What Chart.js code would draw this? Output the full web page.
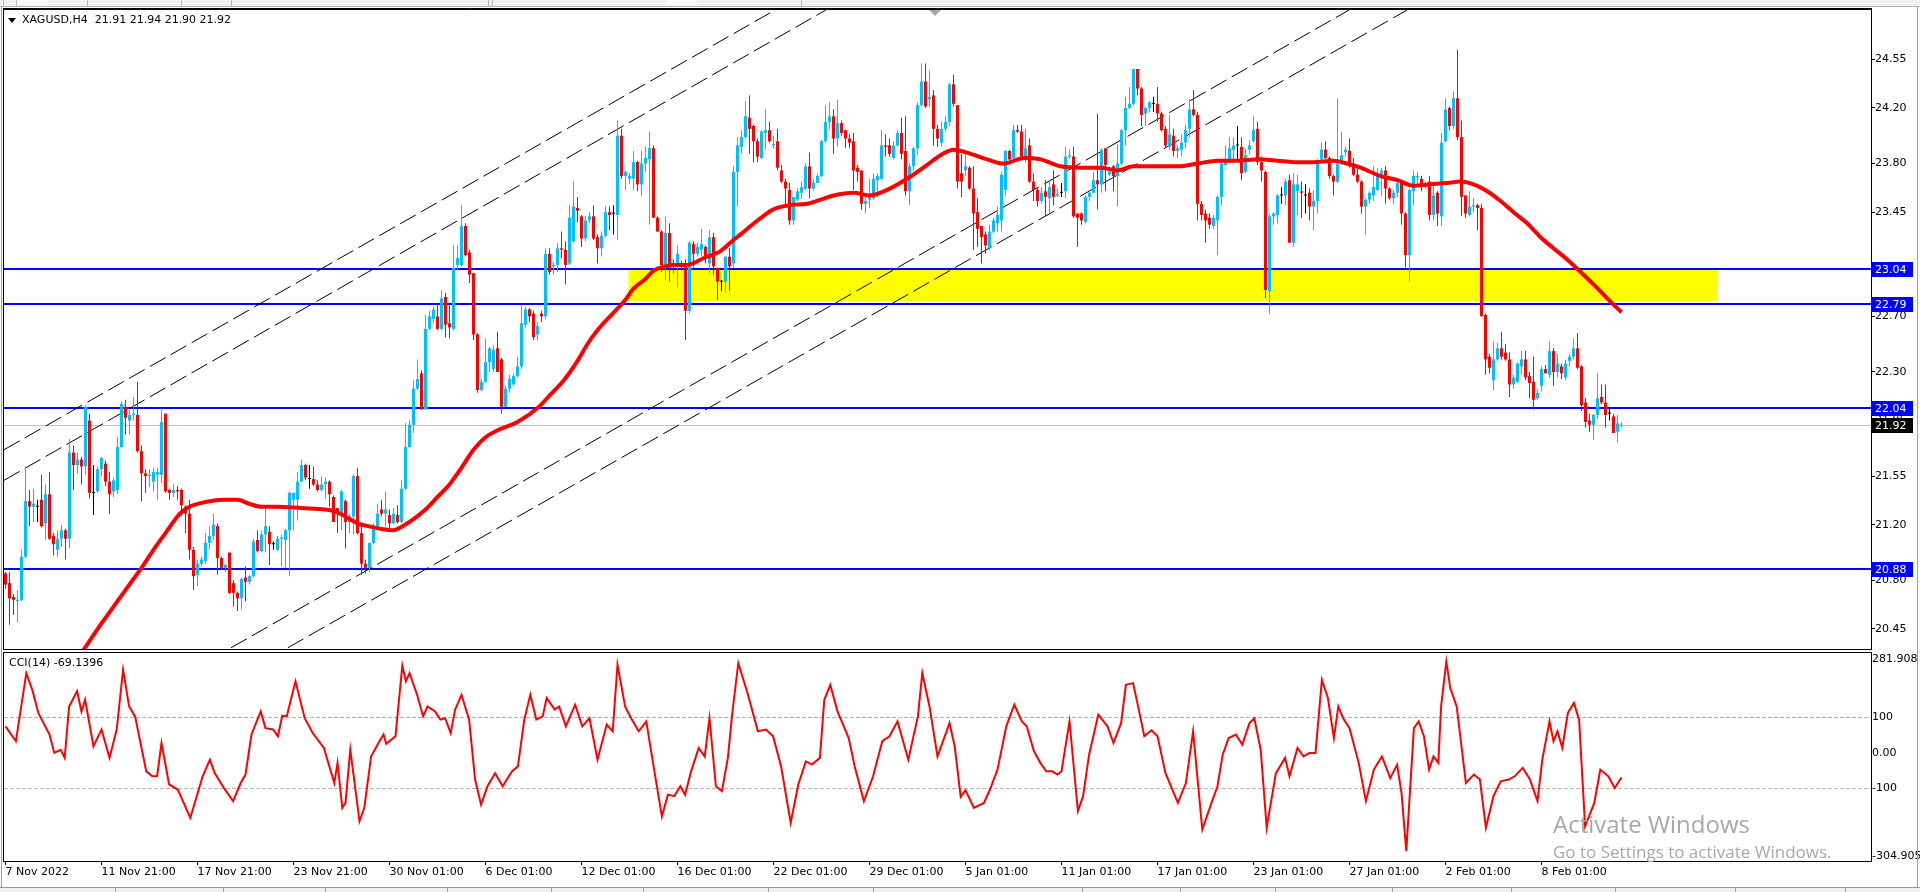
<!DOCTYPE html>
<html>
<head>
<meta charset="utf-8">
<title>XAGUSD,H4</title>
<script src="https://cdn.jsdelivr.net/npm/chart.js@4.4.1/dist/chart.umd.min.js"></script>
<style>
  html, body { margin:0; padding:0; background:#ffffff; }
  body { width:1920px; height:892px; position:relative; overflow:hidden; font-family:"DejaVu Sans", sans-serif; }
  canvas { position:absolute; left:0; display:block; }
  #mainCanvas { top:0; }
  #cciCanvas { top:650px; }
  .strip-top { position:absolute; left:0; top:0; width:1920px; height:6px; background:#f0f0f0; border-bottom:1px solid #b4b4b4; z-index:2; }
  .vsep { position:absolute; top:0; width:1px; height:6px; background:#b8b8b8; z-index:3; }
  .wbox { position:absolute; top:0; height:5px; background:#fbfbfb; z-index:3; }
  .edge { position:absolute; top:7px; width:1px; height:880px; background:#a0a0a0; z-index:2; }
  .strip-bottom { position:absolute; left:0; top:887px; width:1920px; height:5px; background:#f0f0f0; border-top:1px solid #9a9a9a; z-index:2; }
  .tab { position:absolute; top:888px; width:1px; height:4px; background:#a0a0a0; z-index:3; }
  .title { position:absolute; left:22px; top:13px; font-size:11px; line-height:13px; color:#000; white-space:pre; z-index:4; }
  .tri { position:absolute; left:8px; top:18px; width:0; height:0; border-left:4px solid transparent; border-right:4px solid transparent; border-top:5px solid #000; z-index:4; }
  .cci-title { position:absolute; left:9px; top:656px; font-size:11px; line-height:13px; color:#000; white-space:pre; z-index:4; }
  .wm1 { position:absolute; left:1553px; top:812px; font-family:"Open Sans", sans-serif; font-size:24px; line-height:1; color:#a8a8a8; white-space:pre; z-index:4; }
  .wm2 { position:absolute; left:1553px; top:843px; font-family:"Open Sans", sans-serif; font-size:17px; line-height:1; color:#a8a8a8; white-space:pre; z-index:4; }
</style>
</head>
<body>
<div class="strip-top"></div>
<div class="wbox" style="left:16px;width:32px"></div>
<div class="wbox" style="left:666px;width:31px"></div>
<div class="vsep" style="left:3px"></div>
<div class="vsep" style="left:16px"></div>
<div class="vsep" style="left:87px"></div>
<div class="vsep" style="left:181px"></div>
<div class="vsep" style="left:231px"></div>
<div class="vsep" style="left:488px"></div>
<div class="vsep" style="left:492px"></div>
<div class="vsep" style="left:801px"></div>
<div class="edge" style="left:1px"></div>
<div class="edge" style="left:1917px"></div>
<canvas id="mainCanvas" width="1920" height="650"></canvas>
<canvas id="cciCanvas" width="1920" height="237"></canvas>
<div class="strip-bottom"></div>
<div class="tab" style="left:115px"></div>
<div class="tab" style="left:223px"></div>
<div class="tab" style="left:325px"></div>
<div class="tab" style="left:447px"></div>
<div class="tab" style="left:551px"></div>
<div class="tab" style="left:643px"></div>
<div class="tab" style="left:768px"></div>
<div class="tab" style="left:873px"></div>
<div class="tab" style="left:1082px"></div>
<div class="tab" style="left:1180px"></div>
<div class="tab" style="left:1275px"></div>
<div class="tab" style="left:1392px"></div>
<div class="tab" style="left:1511px"></div>
<div class="tab" style="left:1615px"></div>
<div class="tab" style="left:1735px"></div>
<div class="tab" style="left:1845px"></div>
<div class="tri"></div>
<div class="title" id="title"></div>
<div class="cci-title" id="cciTitle"></div>
<div class="wm1">Activate Windows</div>
<div class="wm2">Go to Settings to activate Windows.</div>
<script>
// ---------------- DATA ----------------
const symbol = 'XAGUSD,H4';
const cciName = 'CCI(14)';
const cciLast = -69.1396;

// H4 candles: [open, high, low, close]
const ohlc = [
[20.85,20.86,20.74,20.77],[20.78,20.86,20.48,20.67],[20.68,20.70,20.55,20.66],[20.65,20.73,20.50,20.66],
[20.66,21.02,20.65,20.97],[20.97,21.62,20.96,21.37],[21.37,21.45,21.19,21.33],[21.33,21.46,21.22,21.35],
[21.33,21.38,21.22,21.33],[21.38,21.56,21.18,21.19],[21.21,21.49,21.09,21.42],[21.42,21.58,21.09,21.10],
[21.12,21.14,20.98,21.06],[21.02,21.16,20.97,21.10],[21.10,21.20,21.04,21.16],[21.16,21.17,20.95,21.10],
[21.10,21.82,21.03,21.72],[21.72,21.77,21.45,21.63],[21.63,21.72,21.57,21.67],[21.67,21.69,21.49,21.62],
[21.62,22.06,21.56,22.05],[21.95,22.00,21.39,21.43],[21.43,21.63,21.27,21.43],[21.44,21.62,21.43,21.60],
[21.60,21.69,21.55,21.68],[21.64,21.66,21.48,21.51],[21.51,21.58,21.28,21.42],[21.44,21.54,21.40,21.52],
[21.45,21.83,21.42,21.76],[21.76,22.09,21.75,22.07],[22.05,22.10,21.85,21.97],[21.95,22.03,21.85,21.99],
[21.99,22.12,21.95,22.00],[21.99,22.23,21.72,21.73],[21.73,21.77,21.37,21.57],[21.57,21.60,21.43,21.55],
[21.55,21.60,21.47,21.56],[21.51,21.61,21.44,21.58],[21.56,21.61,21.38,21.58],[21.56,22.04,21.50,21.94],
[22.00,22.00,21.43,21.44],[21.45,21.46,21.38,21.43],[21.43,21.49,21.40,21.45],[21.45,21.48,21.38,21.44],
[21.45,21.46,21.26,21.34],[21.33,21.34,21.14,21.28],[21.28,21.38,20.95,21.02],[21.02,21.04,20.73,20.83],
[20.84,20.95,20.76,20.92],[20.92,20.97,20.90,20.95],[20.94,21.14,20.92,21.07],[21.07,21.19,21.02,21.12],
[21.12,21.28,21.09,21.20],[21.19,21.21,20.84,20.96],[20.96,20.97,20.88,20.89],[20.89,20.92,20.86,20.91],
[21.00,21.00,20.70,20.71],[20.78,20.80,20.61,20.71],[20.71,20.72,20.58,20.67],[20.67,20.82,20.59,20.81],
[20.82,20.90,20.65,20.79],[20.79,20.84,20.77,20.83],[20.83,21.10,20.82,21.08],[21.09,21.16,21.00,21.01],
[21.01,21.16,21.00,21.13],[21.13,21.33,21.00,21.19],[21.15,21.19,20.91,21.06],[21.06,21.08,21.02,21.06],
[21.02,21.12,21.01,21.10],[21.10,21.13,20.90,21.11],[21.09,21.17,20.89,21.16],[21.16,21.44,20.83,21.43],
[21.38,21.43,21.16,21.43],[21.38,21.58,21.23,21.51],[21.51,21.67,21.51,21.63],[21.63,21.64,21.52,21.54],
[21.53,21.63,21.46,21.53],[21.53,21.62,21.48,21.49],[21.49,21.52,21.44,21.45],[21.45,21.55,21.44,21.49],
[21.49,21.54,21.39,21.51],[21.51,21.52,21.33,21.42],[21.40,21.41,21.22,21.22],[21.32,21.32,21.14,21.28],
[21.28,21.45,21.16,21.44],[21.37,21.38,21.03,21.22],[21.22,21.28,21.14,21.26],[21.26,21.56,21.13,21.55],
[21.55,21.61,21.13,21.14],[21.14,21.20,20.84,20.92],[20.92,20.95,20.85,20.89],[20.89,21.07,20.86,21.07],
[21.07,21.21,21.06,21.19],[21.19,21.35,21.16,21.28],[21.31,21.38,21.26,21.28],[21.28,21.44,21.19,21.31],
[21.27,21.31,21.16,21.21],[21.21,21.32,21.21,21.28],[21.27,21.34,21.21,21.22],[21.22,21.52,21.21,21.46],
[21.46,21.93,21.45,21.76],[21.76,21.95,21.75,21.92],[21.92,22.24,21.86,22.18],[22.18,22.39,22.17,22.25],
[22.29,22.31,22.03,22.03],[22.03,22.71,22.03,22.61],
[22.61,22.74,22.60,22.70],[22.68,22.77,22.65,22.75],[22.70,22.79,22.60,22.61],[22.61,22.89,22.60,22.83],
[22.84,22.87,22.55,22.64],[22.65,22.80,22.54,22.62],[22.61,23.21,22.60,23.05],[23.07,23.21,23.03,23.12],
[23.07,23.50,23.06,23.35],[23.35,23.37,23.13,23.14],[23.16,23.18,22.94,23.00],[23.01,23.01,22.53,22.57],
[22.57,22.58,22.15,22.17],[22.17,22.25,22.16,22.23],[22.23,22.54,22.22,22.37],[22.37,22.48,22.30,22.47],
[22.32,22.49,22.30,22.46],[22.47,22.59,22.30,22.30],[22.39,22.40,22.00,22.05],[22.05,22.20,22.05,22.18],
[22.18,22.28,22.15,22.25],[22.21,22.29,22.20,22.27],[22.27,22.41,22.26,22.34],[22.34,22.78,22.32,22.65],
[22.64,22.77,22.62,22.75],[22.75,22.76,22.66,22.70],[22.72,22.74,22.53,22.55],[22.57,22.66,22.53,22.63],
[22.72,22.74,22.66,22.70],[22.70,23.19,22.68,23.15],[23.15,23.19,23.00,23.02],[23.06,23.09,23.00,23.07],
[23.07,23.23,23.02,23.19],[23.19,23.31,23.12,23.18],[23.18,23.24,22.93,23.07],[23.08,23.50,23.07,23.41],
[23.24,23.67,23.23,23.49],[23.48,23.56,23.38,23.46],[23.42,23.43,23.20,23.26],[23.26,23.42,23.24,23.39],
[23.39,23.45,23.37,23.42],[23.42,23.50,23.25,23.26],[23.27,23.29,23.08,23.19],[23.19,23.31,23.13,23.28],
[23.28,23.49,23.27,23.45],[23.45,23.49,23.32,23.43],[23.44,23.50,23.29,23.44],[23.43,24.11,23.25,24.00],
[24.00,24.05,23.69,23.71],[23.71,23.75,23.61,23.74],[23.69,23.73,23.65,23.71],[23.69,23.89,23.61,23.81],
[23.81,23.82,23.60,23.65],[23.65,23.89,23.57,23.80],[23.80,23.92,23.74,23.84],[23.83,24.03,23.36,23.91],
[23.91,23.93,23.41,23.41],[23.41,23.42,23.31,23.31],[23.31,23.32,23.02,23.07],[23.07,23.42,22.96,23.30],
[23.30,23.37,22.95,23.05],[23.08,23.11,23.01,23.06],[23.07,23.21,22.91,23.15],[23.08,23.10,23.04,23.06],
[23.07,23.11,22.53,22.74],[22.74,23.24,22.72,23.23],[23.22,23.24,23.05,23.15],[23.15,23.23,23.13,23.20],
[23.18,23.33,23.13,23.22],[23.20,23.21,23.08,23.13],[23.08,23.32,23.01,23.27],[23.27,23.30,23.00,23.06],
[23.05,23.05,22.82,22.95],[22.95,22.96,22.88,22.95],[22.95,23.13,22.87,23.13],[23.13,23.19,22.88,23.06],
[23.08,23.78,23.05,23.74],[23.74,23.99,23.49,23.93],
[23.92,24.04,23.87,23.99],[23.99,24.25,23.98,24.14],[24.13,24.29,23.87,24.05],[24.07,24.08,23.81,23.96],
[23.96,23.98,23.81,23.85],[23.84,24.04,23.83,24.03],[24.02,24.19,23.90,24.04],[24.04,24.10,23.95,23.96],
[23.93,24.00,23.91,23.94],[23.96,24.05,23.75,23.77],[23.75,23.79,23.66,23.67],[23.67,23.69,23.50,23.62],
[23.61,23.66,23.36,23.39],[23.39,23.56,23.36,23.56],[23.54,23.62,23.53,23.60],[23.59,23.67,23.55,23.63],
[23.62,23.80,23.61,23.78],[23.78,23.88,23.55,23.62],[23.62,23.69,23.60,23.66],[23.66,23.73,23.66,23.71],
[23.71,23.97,23.70,23.96],[23.96,24.22,23.95,24.10],[24.10,24.24,24.04,24.14],[24.14,24.19,23.87,23.98],
[23.98,24.26,23.92,24.09],[24.09,24.11,24.00,24.02],[24.04,24.04,23.91,23.98],[23.98,24.01,23.91,23.95],
[23.96,24.02,23.61,23.75],[23.77,23.79,23.67,23.74],[23.75,23.75,23.47,23.51],[23.51,23.56,23.44,23.53],
[23.54,23.69,23.48,23.56],[23.55,23.73,23.54,23.69],[23.68,23.73,23.56,23.71],[23.69,24.04,23.68,23.93],
[23.93,24.01,23.85,23.92],[23.93,23.98,23.85,23.87],[23.84,23.96,23.83,23.93],[23.93,24.04,23.92,24.02],
[24.02,24.13,23.83,23.87],[23.89,24.14,23.57,23.60],[23.60,23.80,23.50,23.78],[23.78,23.92,23.75,23.91],
[23.91,24.24,23.86,24.22],[24.22,24.52,24.21,24.39],[24.39,24.52,24.20,24.21],[24.26,24.47,24.21,24.28],
[24.29,24.33,23.93,24.05],[24.05,24.08,23.92,23.98],[23.95,24.10,23.92,24.05],[24.05,24.14,24.03,24.10],
[24.10,24.38,24.07,24.37],[24.37,24.44,24.21,24.23],[24.22,24.22,23.62,23.67],[23.73,23.87,23.56,23.67],
[23.75,23.87,23.71,23.78],[23.77,23.78,23.61,23.62],[23.62,23.78,23.18,23.44],[23.45,23.55,23.20,23.33],
[23.35,23.35,23.08,23.27],[23.29,23.31,23.15,23.21],[23.19,23.36,23.18,23.31],[23.31,23.41,23.30,23.39],
[23.37,23.49,23.31,23.43],[23.39,23.74,23.31,23.72],[23.61,23.90,23.57,23.89],[23.89,23.90,23.81,23.83],
[23.84,24.08,23.83,24.04],[24.04,24.08,24.02,24.03],[24.03,24.08,23.83,23.85],[23.83,24.05,23.81,23.91],
[23.93,23.98,23.66,23.67],[23.67,23.73,23.53,23.61],[23.61,23.63,23.49,23.53],[23.53,23.63,23.51,23.59],
[23.60,23.68,23.42,23.56],[23.55,23.67,23.44,23.63],[23.65,23.75,23.50,23.56],[23.57,23.62,23.56,23.58],
[23.59,23.66,23.56,23.59],[23.60,23.92,23.55,23.85],[23.85,23.90,23.83,23.86],[23.85,23.92,23.41,23.42],
[23.44,23.44,23.20,23.41],[23.44,23.45,23.36,23.39],[23.38,23.57,23.37,23.56],[23.56,23.61,23.53,23.59],
[23.59,23.74,23.59,23.68],[23.68,24.16,23.47,23.65],[23.65,23.91,23.59,23.90],[23.91,23.91,23.60,23.79],
[23.72,23.78,23.71,23.74],[23.78,23.79,23.60,23.71],[23.71,23.94,23.49,23.80],[23.80,24.05,23.79,24.04],
[24.04,24.28,23.93,24.20],[24.20,24.35,24.19,24.23],[24.23,24.48,24.22,24.48],[24.48,24.48,24.29,24.34],
[24.34,24.35,24.07,24.15],[24.16,24.21,24.07,24.20],[24.20,24.25,24.17,24.24],[24.23,24.28,24.17,24.23],
[24.23,24.35,24.10,24.16],[24.16,24.17,24.03,24.04],[24.05,24.07,23.91,23.93],[23.92,24.15,23.90,24.01],
[24.00,24.05,23.85,23.89],[23.89,23.93,23.84,23.91],[23.90,24.01,23.85,23.95],[23.95,24.08,23.91,24.04],
[24.05,24.26,23.99,24.19],[24.19,24.33,24.14,24.15],[24.15,24.17,23.39,23.51],[23.51,23.53,23.39,23.43],
[23.44,23.47,23.23,23.39],[23.41,23.44,23.33,23.36],[23.35,23.43,23.33,23.41],[23.39,23.57,23.14,23.56],
[23.56,23.81,23.50,23.80],[23.79,23.93,23.78,23.81],[23.83,23.99,23.80,23.91],[23.90,23.99,23.80,23.93],
[23.93,24.07,23.83,23.93],[23.92,23.99,23.68,23.73],[23.74,23.91,23.73,23.86],[23.90,23.97,23.87,23.93],
[23.96,24.14,23.95,24.04],[24.05,24.10,23.79,23.81],[23.81,23.85,23.67,23.75],[23.74,23.75,22.83,22.89],
[22.88,23.44,22.72,23.42],[23.42,23.45,23.36,23.44],[23.43,23.58,23.37,23.57],[23.57,23.63,23.51,23.57],
[23.57,23.69,23.50,23.67],[23.68,23.72,23.23,23.23],[23.23,23.73,23.20,23.65],[23.60,23.72,23.43,23.65],
[23.60,23.67,23.41,23.59],[23.57,23.65,23.44,23.57],[23.59,23.62,23.39,23.49],[23.49,23.61,23.32,23.53],
[23.53,23.83,23.44,23.81],[23.83,23.95,23.81,23.90],[23.90,23.96,23.83,23.84],[23.84,23.85,23.69,23.71],
[23.71,23.72,23.57,23.67],[23.67,24.27,23.66,23.80],[23.80,24.03,23.79,23.86],[23.88,23.92,23.85,23.90],
[23.89,23.98,23.77,23.78],[23.78,23.84,23.71,23.72],[23.72,23.76,23.66,23.67],[23.67,23.68,23.44,23.49],
[23.49,23.55,23.29,23.54],[23.54,23.60,23.51,23.59],[23.57,23.78,23.53,23.63],[23.61,23.77,23.60,23.71],
[23.71,23.77,23.57,23.75],[23.75,23.78,23.51,23.62],[23.62,23.63,23.54,23.55],[23.55,23.61,23.51,23.59],
[23.59,23.68,23.56,23.66],[23.67,23.68,23.36,23.44],[23.44,23.45,23.05,23.14],[23.14,23.62,22.95,23.61],
[23.60,23.75,23.50,23.71],[23.70,23.74,23.63,23.71],[23.69,23.71,23.60,23.63],[23.63,23.67,23.62,23.66],
[23.67,23.71,23.39,23.43],[23.43,23.67,23.39,23.57],[23.59,23.60,23.35,23.44],[23.42,24.02,23.35,23.95],
[23.96,24.27,23.95,24.19],[24.20,24.21,24.04,24.07],[24.07,24.32,24.05,24.27],[24.27,24.62,23.97,23.99],
[23.99,24.11,23.42,23.56],[23.57,23.57,23.41,23.44],[23.43,23.60,23.42,23.49],[23.49,23.55,23.45,23.50],
[23.50,23.51,23.32,23.48],[23.48,23.51,22.70,22.70],[22.71,22.72,22.28,22.39],[22.41,22.43,22.29,22.33],
[22.24,22.52,22.17,22.39],[22.39,22.51,22.38,22.47],[22.47,22.59,22.39,22.41],[22.44,22.50,22.38,22.39],
[22.39,22.44,22.12,22.21],[22.21,22.28,22.18,22.26],[22.23,22.37,22.22,22.36],[22.34,22.45,22.28,22.39],
[22.39,22.45,22.24,22.26],[22.27,22.30,22.11,22.22],[22.23,22.41,22.03,22.10],[22.11,22.17,22.10,22.15],
[22.20,22.34,22.16,22.32],[22.32,22.35,22.29,22.29],[22.28,22.52,22.26,22.45],[22.45,22.47,22.20,22.30],
[22.30,22.43,22.26,22.36],[22.34,22.36,22.25,22.29],[22.26,22.39,22.24,22.36],[22.38,22.43,22.34,22.41],
[22.41,22.54,22.39,22.47],[22.47,22.58,22.32,22.33],[22.34,22.35,22.02,22.06],[22.08,22.11,21.90,21.94],
[21.95,22.00,21.87,21.92],[21.92,22.00,21.81,21.99],[21.99,22.29,21.96,22.11],[22.12,22.21,22.07,22.08],
[22.08,22.21,21.90,21.99],[22.00,22.04,21.95,22.00],[21.98,22.00,21.86,21.86],[21.87,21.99,21.79,21.93],
[21.91,21.94,21.90,21.92]
];

// 50-bar moving average: [bar, value]
const maPoints = [
[16,20.15],[20,20.32],[24,20.49],[28,20.65],[31,20.77],[34,20.89],[37,21.02],[40,21.14],[43.6,21.28],
[46,21.33],[48,21.35],[51,21.37],[55,21.38],[58,21.38],[61,21.35],[64,21.33],[68,21.33],[74,21.32],
[80,21.31],[83,21.29],[85.5,21.25],[88,21.21],[90.6,21.19],[94,21.17],[96.7,21.16],[99.3,21.19],
[102,21.24],[105,21.31],[108,21.40],[111,21.49],[114,21.61],[117,21.74],[120,21.83],[123,21.88],
[128,21.94],[133.4,22.05],[136,22.13],[139.6,22.24],[143,22.38],[145.7,22.51],[148,22.60],[151.8,22.72],
[155,22.82],[157,22.90],[160,22.97],[162,23.03],[165,23.06],[167,23.07],[170.4,23.07],[174.6,23.12],
[178.75,23.17],[182,23.25],[183.75,23.29],[188,23.39],[192,23.47],[196,23.50],[200.4,23.51],[203.75,23.54],
[207,23.57],[212,23.59],[216,23.57],[220.4,23.61],[225.4,23.69],[230.4,23.79],[233.75,23.86],[237,23.90],
[241.25,23.87],[245.4,23.83],[249.6,23.80],[254.6,23.84],[258.75,23.83],[263.75,23.78],[268.75,23.77],
[273.75,23.77],[277.9,23.75],[282,23.78],[288.75,23.78],[293,23.78],[298,23.80],[303,23.82],[308,23.82],
[313,23.83],[318,23.82],[322,23.81],[327,23.81],[332,23.82],[335.4,23.80],[338.75,23.77],[342,23.73],
[343.75,23.71],[348,23.68],[352,23.64],[356,23.65],[360.4,23.66],[363.75,23.67],[367,23.65],[370.4,23.60],
[373.75,23.53],[377,23.45],[380.4,23.37],[383.75,23.27],[387,23.19],[390.4,23.11],[393.75,23.02],
[397,22.93],[400.4,22.83],[404,22.73]
];

// CCI(14): [bar, value]
const cciPoints = [
[0,75],[2.6,33],[5.2,225],[6.7,178],[8.2,113],[11,52],[12.2,0],[13.8,9],[14.8,-14],[15.9,131],[17.9,174],
[19,117],[19.9,150],[22,19],[24,66],[26,-14],[27.8,66],[29.4,235],[30.9,131],[32.4,103],[35.2,-52],
[36.7,-66],[37.9,-66],[39,28],[40.9,-89],[43.1,-104],[46.2,-183],[49.3,-66],[51.1,-19],[52.3,-57],
[54.6,-99],[56.9,-136],[58.8,-85],[60,-61],[61.5,52],[63.8,117],[65,70],[66.9,66],[68.1,47],[69.2,105],
[70.3,103],[72.5,202],[74.8,98],[76.8,56],[79.6,14],[82.2,-85],[83,-28],[84.2,-155],[85,-141],[86.2,9],
[88.5,-193],[89.7,-155],[91.4,-10],[93,23],[94.5,52],[95.2,26],[97.5,47],[99.2,246],[100.1,202],[101,225],
[102.9,164],[104.4,103],[105.5,131],[107.4,117],[108.7,94],[109.9,98],[111.3,56],[112.4,122],[114,164],
[115.9,94],[117.4,-75],[118.9,-146],[120.5,-94],[122.4,-57],[124.3,-94],[126.6,-52],[128.1,-38],[129.7,94],
[131.2,164],[132.7,94],[134.3,103],[135.3,155],[137.3,122],[138.4,131],[140.1,75],[142.4,136],[144.2,75],
[146,98],[148,-19],[150.3,80],[151.8,61],[153,249],[154.9,131],[156.4,98],[158.3,61],[160.2,89],[162.3,-57],
[164.1,-179],[165.6,-118],[167.2,-122],[168.7,-94],[169.9,-118],[171.4,-52],[173.3,14],[174.8,-10],[176,98],
[177.6,-94],[179.1,-108],[180.6,-14],[181.7,113],[183.2,253],[185.5,169],[188.1,61],[190.1,66],[191.9,47],
[193.9,-38],[196.3,-197],[198.2,-89],[200.1,-24],[201.6,-33],[203.6,-14],[204.7,150],[206.2,192],[208,117],
[210.8,42],[212.3,-38],[214.6,-136],[216.9,-66],[219.2,33],[221,47],[223,89],[225.7,-19],[228.1,103],
[229.2,225],[231,131],[233,-10],[236,84],[237.3,19],[238.8,-124],[240,-105],[242.1,-155],[244.6,-141],
[246.1,-104],[248,-47],[250.2,75],[252.2,136],[254.1,89],[255.3,75],[257.1,5],[258.7,-28],[260.2,-52],
[261.7,-52],[263,-61],[264,-52],[266,89],[268.1,-164],[269.4,-122],[270.9,-5],[273.2,108],[275.5,75],
[277,28],[278.9,84],[280.1,192],[281.9,197],[283.5,113],[284.7,47],[286.5,64],[288,47],[290,-57],
[293.1,-141],[295.1,-85],[296.9,61],[299.2,-216],[301.5,-141],[303,-94],[304.3,-5],[305.8,42],[307.6,52],
[309.2,23],[311,84],[312.2,98],[313.8,9],[315.3,-211],[317.6,-57],[319.9,-14],[321,-66],[323,14],
[324.5,-10],[326,0],[327.5,0],[329.1,206],[330.6,155],[332.1,42],[333.2,131],[334.4,98],[336,70],
[338.3,-28],[340.1,-136],[342.1,-47],[344.1,-10],[346.2,-71],[347.9,-33],[349,-113],[350.2,-277],
[352.1,70],[353.3,89],[354.6,47],[355.9,-47],[357,-10],[358.2,-28],[358.9,131],[360.2,258],[361.2,183],
[362.8,131],[365.1,-85],[367.1,-61],[368.6,-75],[370.1,-211],[372,-122],[373.8,-80],[375.8,-75],
[377.3,-66],[379.3,-42],[381.1,-75],[383,-136],[384.2,-19],[386,89],[387,33],[388,61],[389.2,14],
[390.6,113],[392.1,141],[393.4,94],[394.9,-207],[397.2,-141],[398.7,-47],[400.7,-66],[402.3,-99],[404,-69.1396]
];

// Horizontal support/resistance levels and current price
const hLevels = [23.04, 22.79, 22.04, 20.88];
const lastPrice = 21.92;
// Highlighted zone: [fromBar, toBar, low, high]
const zone = [155.75, 428, 22.81, 23.04];
// Dashed channel lines: [[bar, price], [bar, price]]
const channelLines = [
  [[-0.375, 21.74], [192.4, 24.905]],
  [[-0.375, 21.52], [205.1, 24.905]],
  [[56.4, 20.315], [335.9, 24.905]],
  [[70.6, 20.315], [350.4, 24.905]]
];

// Axis ticks and labels
const priceTicks = [24.55, 24.20, 23.80, 23.45, 23.05, 22.70, 22.30, 21.95, 21.55, 21.20, 20.80, 20.45];
const priceRange = [20.306, 24.905];
const cciRange = [-304.905, 281.908];
const cciLevels = [100, -100];
const cciAxisLabels = [[281.908, '281.908'], [100, '100'], [0, '0.00'], [-100, '-100'], [-304.905, '-304.905']];
const timeTickBars = [0, 24, 48, 72, 96, 120, 144, 168, 192, 216, 240, 264, 288, 312, 336, 360, 384];
const timeLabels = ['7 Nov 2022', '11 Nov 21:00', '17 Nov 21:00', '23 Nov 21:00', '30 Nov 01:00', '6 Dec 01:00',
  '12 Dec 01:00', '16 Dec 01:00', '22 Dec 01:00', '29 Dec 01:00', '5 Jan 01:00', '11 Jan 01:00',
  '17 Jan 01:00', '23 Jan 01:00', '27 Jan 01:00', '2 Feb 01:00', '8 Feb 01:00'];
const barRange = [-0.375, 466.375];

// ---------------- TEXT ----------------
const last = ohlc[ohlc.length - 1];
document.getElementById('title').textContent = symbol + '  ' + last.map(v => v.toFixed(2)).join(' ');
document.getElementById('cciTitle').textContent = cciName + ' ' + cciLast.toFixed(4);

// ---------------- STYLE ----------------
const BULL = '#00BFFF', BEAR = '#FF0000', DOJI = '#000000';
const FONT = { family: 'DejaVu Sans', size: 11 };
Chart.defaults.font.family = 'DejaVu Sans';
Chart.defaults.font.size = 11;

const candleColor = ohlc.map(r => r[3] > r[0] ? BULL : (r[3] < r[0] ? BEAR : DOJI));
const wickData = ohlc.map((r, i) => ({ x: i, y: [r[2], r[1]] }));
const bodyData = ohlc.map((r, i) => ({ x: i, y: [r[0], r[3]] }));

const mainDecor = {
  id: 'mainDecor',
  beforeDatasetsDraw(chart) {
    const { ctx, chartArea: a, scales: { x, y } } = chart;
    ctx.save();
    ctx.beginPath(); ctx.rect(a.left, a.top, a.right - a.left, a.bottom - a.top); ctx.clip();
    // yellow zone
    const x0 = x.getPixelForValue(zone[0]), x1 = x.getPixelForValue(zone[1]);
    const yLo = y.getPixelForValue(zone[2]), yHi = y.getPixelForValue(zone[3]);
    ctx.fillStyle = '#FFFF00';
    ctx.fillRect(x0, yHi, x1 - x0, yLo - yHi);
    // current price line
    const yc = Math.round(y.getPixelForValue(lastPrice)) + 0.5;
    ctx.strokeStyle = '#C0C0C0'; ctx.lineWidth = 1;
    ctx.beginPath(); ctx.moveTo(a.left, yc); ctx.lineTo(a.right, yc); ctx.stroke();
    // blue levels
    ctx.strokeStyle = '#0000FF'; ctx.lineWidth = 2;
    hLevels.forEach(v => {
      const yy = Math.round(y.getPixelForValue(v));
      ctx.beginPath(); ctx.moveTo(a.left, yy); ctx.lineTo(a.right, yy); ctx.stroke();
    });
    ctx.restore();
  },
  afterDraw(chart) {
    const { ctx, chartArea: a, scales: { y } } = chart;
    ctx.save();
    // frame
    ctx.strokeStyle = '#000'; ctx.lineWidth = 1;
    ctx.strokeRect(a.left - 0.5, a.top - 0.5, a.right - a.left + 1, a.bottom - a.top + 1);
    ctx.beginPath(); ctx.moveTo(a.left - 1, a.top - 1.5); ctx.lineTo(a.right + 1, a.top - 1.5); ctx.stroke();
    // chart shift marker
    ctx.fillStyle = '#A8A8A8';
    ctx.beginPath(); ctx.moveTo(929, a.top); ctx.lineTo(941, a.top); ctx.lineTo(935, a.top + 6); ctx.closePath(); ctx.fill();
    // level price boxes
    ctx.font = '11px "DejaVu Sans"'; ctx.textAlign = 'left'; ctx.textBaseline = 'middle';
    const boxes = hLevels.map(v => [v, '#0000FF']).concat([[lastPrice, '#000000']]);
    boxes.forEach(([v, bg]) => {
      const yy = Math.round(y.getPixelForValue(v));
      ctx.fillStyle = bg;
      ctx.fillRect(a.right, yy - 7, 42, 15);
      ctx.fillStyle = '#FFFFFF';
      ctx.fillText(v.toFixed(2), a.right + 4, yy + 1);
    });
    ctx.restore();
  }
};

const mainChart = new Chart(document.getElementById('mainCanvas'), {
  type: 'bar',
  data: {
    datasets: [
      { type: 'line', data: maPoints.map(p => ({ x: p[0], y: p[1] })), borderColor: '#FF0000', borderWidth: 4,
        pointRadius: 0, cubicInterpolationMode: 'monotone', order: 1 },
      { type: 'bar', data: bodyData, backgroundColor: candleColor, borderWidth: 0, barThickness: 3,
        minBarLength: 1, grouped: false, inflateAmount: 0, order: 3 },
      { type: 'bar', data: wickData, backgroundColor: candleColor, borderWidth: 0, barThickness: 1,
        grouped: false, inflateAmount: 0, order: 4 },
      ...channelLines.map(l => ({ type: 'line', data: l.map(p => ({ x: p[0], y: p[1] })), borderColor: '#000000',
        borderWidth: 1, borderDash: [18, 6], pointRadius: 0, tension: 0, order: 5 }))
    ]
  },
  options: {
    responsive: false, maintainAspectRatio: false, animation: false, devicePixelRatio: 1, events: [],
    layout: { padding: { left: 4, top: 10, right: 0, bottom: 1 }, autoPadding: false },
    plugins: { legend: { display: false }, tooltip: { enabled: false } },
    scales: {
      x: { type: 'linear', min: barRange[0], max: barRange[1], display: false, offset: false },
      y: {
        position: 'right', min: priceRange[0], max: priceRange[1],
        afterBuildTicks: s => { s.ticks = priceTicks.map(v => ({ value: v })); },
        afterFit: s => { s.width = 49; s.paddingTop = 0; s.paddingBottom = 0; },
        ticks: { color: '#000', font: FONT, padding: 0, autoSkip: false, callback: v => Number(v).toFixed(2) },
        grid: { drawOnChartArea: false, drawTicks: true, tickLength: 4, color: '#000' },
        border: { display: false }
      }
    }
  },
  plugins: [mainDecor]
});

const cciDecor = {
  id: 'cciDecor',
  beforeDatasetsDraw(chart) {
    const { ctx, chartArea: a, scales: { y } } = chart;
    ctx.save();
    ctx.strokeStyle = '#B4B4B4'; ctx.lineWidth = 1; ctx.setLineDash([4, 2]);
    cciLevels.forEach(v => {
      const yy = Math.round(y.getPixelForValue(v)) + 0.5;
      ctx.beginPath(); ctx.moveTo(a.left, yy); ctx.lineTo(a.right, yy); ctx.stroke();
    });
    ctx.restore();
  },
  afterDraw(chart) {
    const { ctx, chartArea: a, scales: { y } } = chart;
    ctx.save();
    ctx.strokeStyle = '#000'; ctx.lineWidth = 1;
    ctx.strokeRect(a.left - 0.5, a.top - 0.5, a.right - a.left + 1, a.bottom - a.top + 1);
    ctx.fillStyle = '#000'; ctx.font = '11px "DejaVu Sans"'; ctx.textAlign = 'left';
    cciAxisLabels.forEach(([v, txt], i) => {
      let yy = y.getPixelForValue(v);
      if (i === 0) { ctx.textBaseline = 'top'; yy = a.top + 1; }
      else if (i === cciAxisLabels.length - 1) { ctx.textBaseline = 'bottom'; yy = a.bottom + 1; }
      else { ctx.textBaseline = 'middle'; }
      ctx.fillText(txt, a.right + 1, yy);
    });
    ctx.restore();
  }
};

const cciChart = new Chart(document.getElementById('cciCanvas'), {
  type: 'line',
  data: {
    datasets: [{ data: cciPoints.map(p => ({ x: p[0], y: p[1] })), borderColor: '#FF0000', borderWidth: 2,
      pointRadius: 0, tension: 0 }]
  },
  options: {
    responsive: false, maintainAspectRatio: false, animation: false, devicePixelRatio: 1, events: [],
    layout: { padding: { left: 4, top: 3, right: 0, bottom: 0 }, autoPadding: false },
    plugins: { legend: { display: false }, tooltip: { enabled: false } },
    scales: {
      x: {
        type: 'linear', min: barRange[0], max: barRange[1], position: 'bottom', offset: false,
        afterBuildTicks: s => { s.ticks = timeTickBars.map(v => ({ value: v })); },
        afterFit: s => { s.height = 26; s.paddingLeft = 0; s.paddingRight = 0; },
        ticks: { align: 'start', color: '#000', font: FONT, padding: 1, autoSkip: false, maxRotation: 0, minRotation: 0,
          callback: v => timeLabels[timeTickBars.indexOf(v)] },
        grid: { drawOnChartArea: false, drawTicks: true, tickLength: 4, color: '#000' },
        border: { display: false }
      },
      y: {
        position: 'right', min: cciRange[0], max: cciRange[1],
        ticks: { display: false }, grid: { display: false }, border: { display: false },
        afterFit: s => { s.width = 49; s.paddingTop = 0; s.paddingBottom = 0; }
      }
    }
  },
  plugins: [cciDecor]
});
</script>
</body>
</html>
